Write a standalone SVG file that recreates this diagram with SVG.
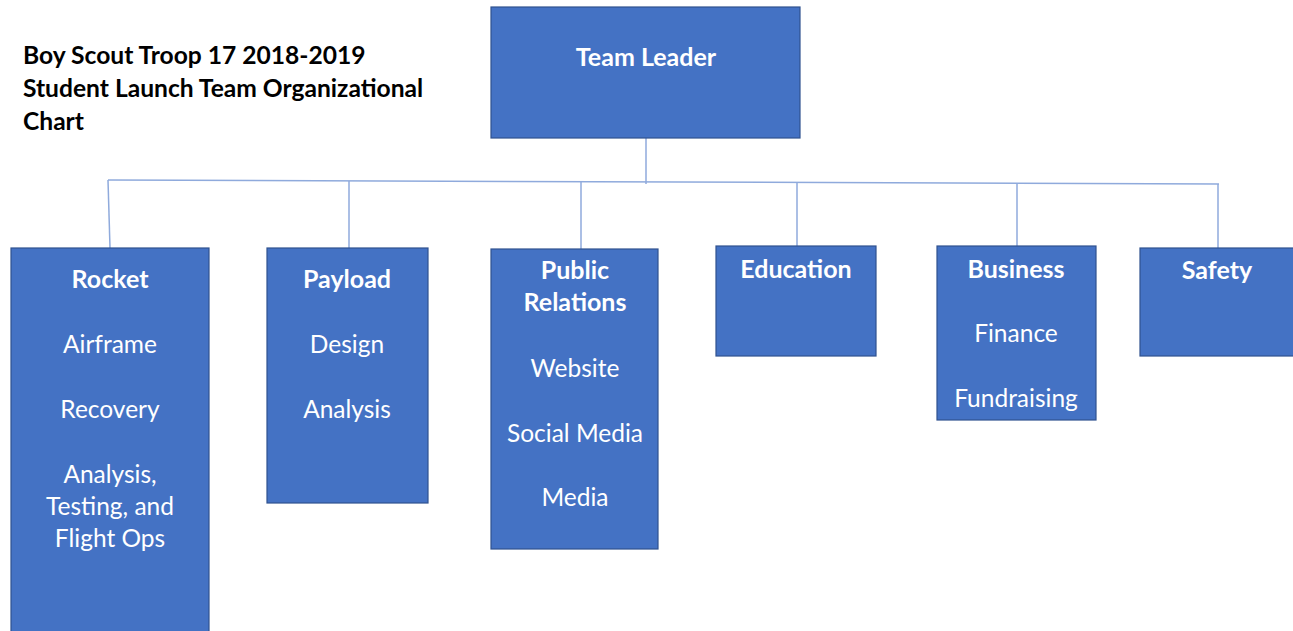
<svg xmlns="http://www.w3.org/2000/svg" width="1293" height="631" viewBox="0 0 1293 631">
  <style>
    .box { fill: #4472C4; stroke: #2F528F; stroke-width: 1.2; }
    .head { font-family: Lato, "Open Sans", "Liberation Sans", sans-serif; font-weight: bold; font-size: 25px; fill: #FFFFFF; text-anchor: middle; }
    .item { font-family: Lato, "Open Sans", "Liberation Sans", sans-serif; font-size: 24.5px; fill: #FFFFFF; text-anchor: middle; }
    .title { font-family: Lato, "Open Sans", "Liberation Sans", sans-serif; font-weight: bold; font-size: 24.6px; fill: #000000; }
    .link { stroke: #8FAADC; stroke-width: 1.5; fill: none; }
  </style>
  <rect width="1293" height="631" fill="#FFFFFF"/>

  <g id="title">
    <text class="title" x="23" y="64">Boy Scout Troop 17 2018-2019</text>
    <text class="title" x="23" y="97">Student Launch Team Organizational</text>
    <text class="title" x="23" y="130">Chart</text>
  </g>

  <g id="connectors">
    <path class="link" d="M646 138 V184"/>
    <path class="link" d="M108 180 L1219 184"/>
    <path class="link" d="M108 180 L110 248"/>
    <path class="link" d="M349 181 V248"/>
    <path class="link" d="M581 182 V249"/>
    <path class="link" d="M797 183 V246"/>
    <path class="link" d="M1017 183 V246"/>
    <path class="link" d="M1218 184 V248"/>
  </g>

  <g id="team-leader">
    <rect class="box" x="491" y="7" width="309" height="131"/>
    <text class="head" x="646" y="66">Team Leader</text>
  </g>

  <g id="rocket">
    <rect class="box" x="11" y="248" width="198" height="390"/>
    <text class="head" x="110" y="288">Rocket</text>
    <text class="item" x="110" y="353">Airframe</text>
    <text class="item" x="110" y="418">Recovery</text>
    <text class="item" x="110" y="483">Analysis,</text>
    <text class="item" x="110" y="515">Testing, and</text>
    <text class="item" x="110" y="547">Flight Ops</text>
  </g>

  <g id="payload">
    <rect class="box" x="267" y="248" width="161" height="255"/>
    <text class="head" x="347" y="288">Payload</text>
    <text class="item" x="347" y="353">Design</text>
    <text class="item" x="347" y="418">Analysis</text>
  </g>

  <g id="public-relations">
    <rect class="box" x="491" y="249" width="167" height="300"/>
    <text class="head" x="575" y="279">Public</text>
    <text class="head" x="575" y="311">Relations</text>
    <text class="item" x="575" y="377">Website</text>
    <text class="item" x="575" y="442">Social Media</text>
    <text class="item" x="575" y="506">Media</text>
  </g>

  <g id="education">
    <rect class="box" x="716" y="246" width="160" height="110"/>
    <text class="head" x="796" y="278">Education</text>
  </g>

  <g id="business">
    <rect class="box" x="937" y="246" width="159" height="174"/>
    <text class="head" x="1016" y="278">Business</text>
    <text class="item" x="1016" y="342">Finance</text>
    <text class="item" x="1016" y="407">Fundraising</text>
  </g>

  <g id="safety">
    <rect class="box" x="1140" y="248" width="160" height="108"/>
    <text class="head" x="1217" y="279">Safety</text>
  </g>
</svg>
